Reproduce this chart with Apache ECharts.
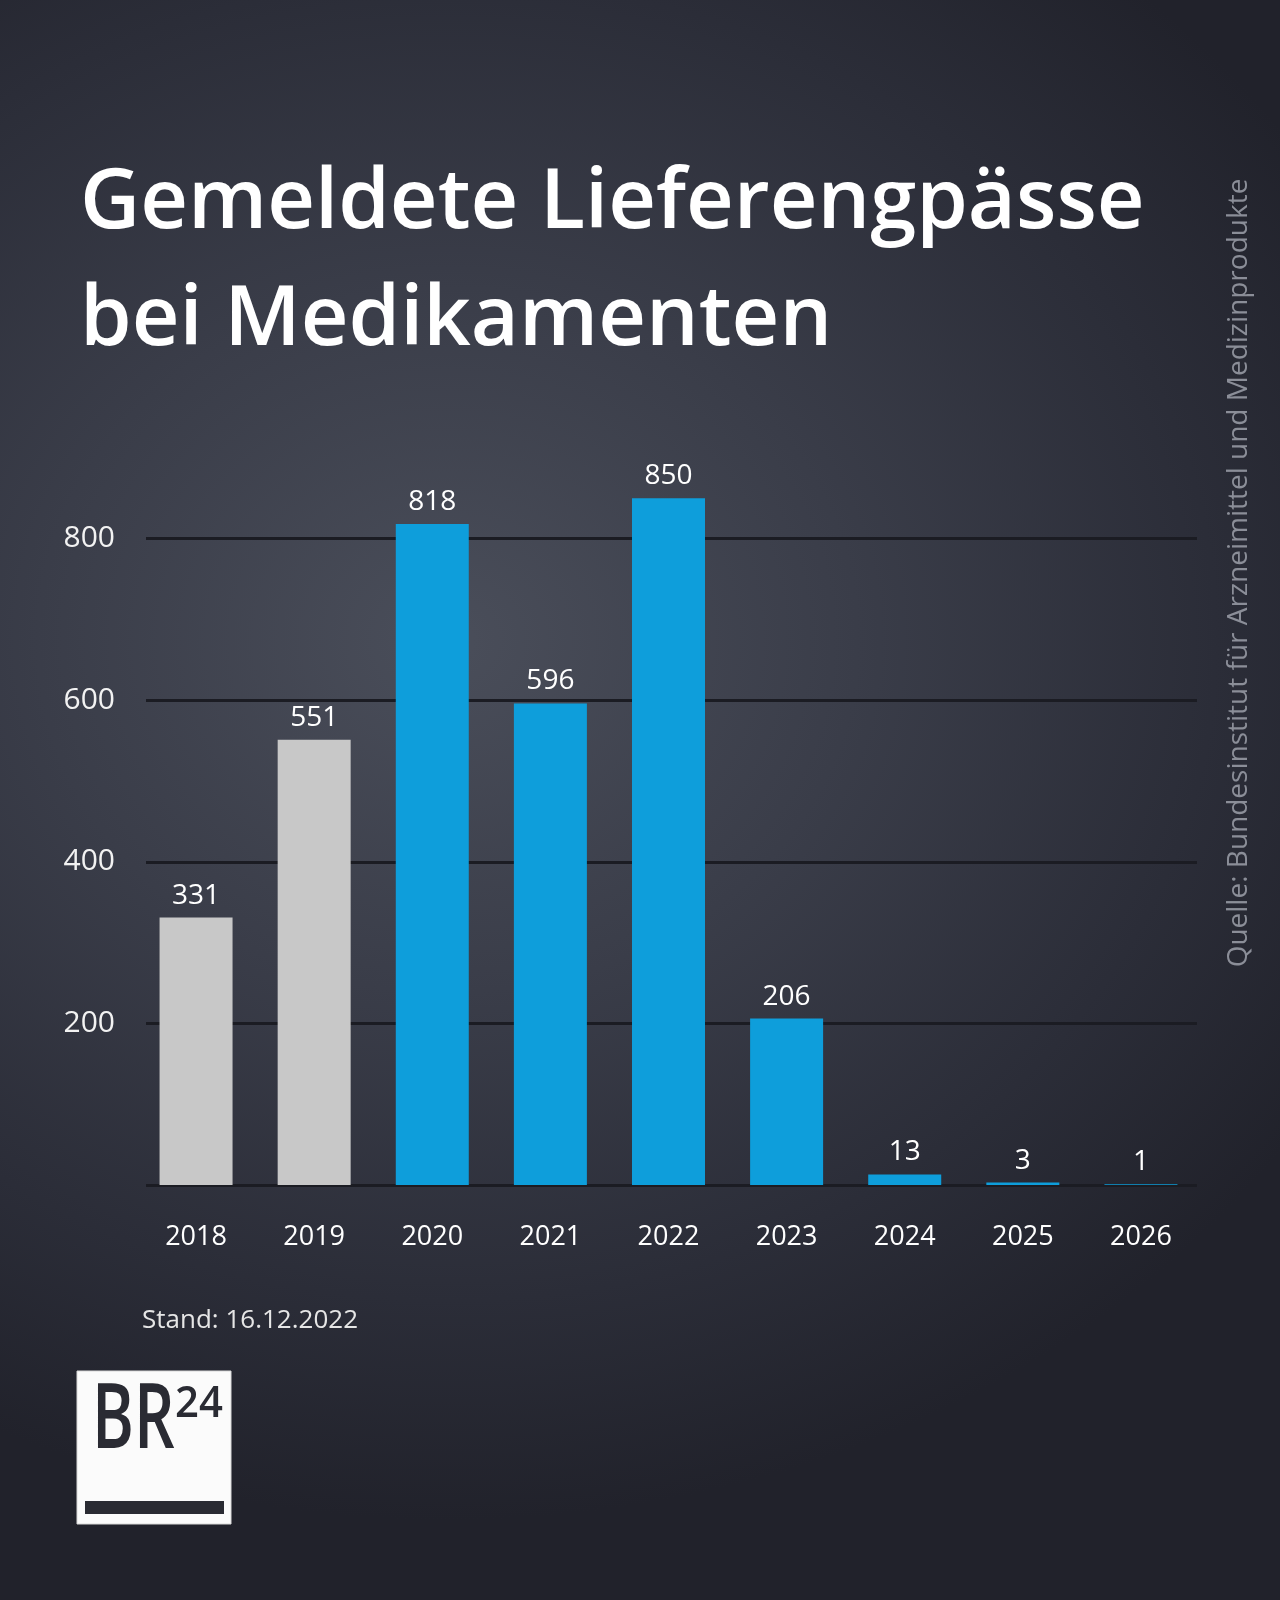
<!DOCTYPE html>
<html>
<head>
<meta charset="utf-8">
<script src="https://cdn.jsdelivr.net/npm/echarts@6/dist/echarts.min.js"></script>
<style>
html,body{margin:0;padding:0;}
body{width:1280px;height:1600px;background:radial-gradient(ellipse 80% 55% at 35% 40%, #4a4e5a 0%, #3a3d49 40%, #2b2d38 75%, #21222b 100%);}
#chart{width:1280px;height:1600px;}
</style>
</head>
<body>
<div id="chart"></div>
<script>
const years = ['2018','2019','2020','2021','2022','2023','2024','2025','2026'];
const values = [331, 551, 818, 596, 850, 206, 13, 3, 1];
const barColors = ['#c8c8c8','#c8c8c8','#0e9edb','#0e9edb','#0e9edb','#0e9edb','#0e9edb','#0e9edb','#0e9edb'];
const yTicks = [0, 200, 400, 600, 800, 1000];
const titleLines = ['Gemeldete Lieferengpässe', 'bei Medikamenten'];
const standText = 'Stand: 16.12.2022';
const sourceText = 'Quelle: Bundesinstitut für Arzneimittel und Medizinprodukte';

const FONT = '"Open Sans", "Noto Sans", sans-serif';
const chart = echarts.init(document.getElementById('chart'), null, {renderer: 'canvas'});
const yMin = yTicks[0], yMax = yTicks[yTicks.length - 1];
const option = {
  backgroundColor: 'transparent',
  animation: false,
  grid: [
    {left: 146, top: 377, width: 1051, height: 808, containLabel: false},
    {left: 137, top: 377, width: 1063, height: 808, containLabel: false}
  ],
  xAxis: [
    {type: 'value', gridIndex: 0, show: false, min: 0, max: 1},
    {
      type: 'category',
      gridIndex: 1,
      data: years,
      axisLine: {show: false},
      axisTick: {show: false},
      axisLabel: {color: '#ffffff', fontFamily: FONT, fontSize: 27, margin: 39}
    }
  ],
  yAxis: [
    {
      type: 'value',
      gridIndex: 0,
      min: yMin,
      max: yMax,
      interval: 200,
      axisLine: {show: false},
      axisTick: {show: false},
      axisLabel: {color: '#f2f2f2', fontFamily: FONT, fontSize: 30, margin: 31, showMinLabel: false, showMaxLabel: false},
      splitLine: {show: true, showMaxLine: false, lineStyle: {color: '#1b1c23', width: 3}}
    },
    {
      type: 'value',
      gridIndex: 1,
      min: yMin,
      max: yMax,
      interval: 200,
      show: false,
      splitLine: {show: false}
    }
  ],
  series: [{
    type: 'bar',
    xAxisIndex: 1,
    yAxisIndex: 1,
    barWidth: 73,
    data: values.map((v, i) => ({value: v, itemStyle: {color: barColors[i]}})),
    label: {show: true, position: 'top', distance: 8, color: '#ffffff', fontFamily: FONT, fontSize: 28}
  }],
  graphic: [
    {type: 'text', left: 80, top: 163, style: {text: titleLines[0], fill: '#ffffff', font: '600 83px ' + FONT}},
    {type: 'text', left: 80, top: 280, style: {text: titleLines[1], fill: '#ffffff', font: '600 83px ' + FONT}},
    {type: 'text', x: 142, y: 1321, style: {text: standText, fill: '#e6e6e6', font: '400 26px ' + FONT, verticalAlign: 'middle', align: 'left'}},
    {type: 'text', x: 1239, y: 573, rotation: Math.PI / 2, style: {text: sourceText, fill: '#8b8e98', font: '400 28px ' + FONT, verticalAlign: 'middle', align: 'center'}},
    {type: 'rect', shape: {x: 77, y: 1371, width: 154, height: 153}, style: {fill: '#fbfbfb', stroke: '#d8d8d8', lineWidth: 1}},
    {type: 'rect', shape: {x: 85, y: 1501, width: 139, height: 13}, style: {fill: '#2a2b33'}},
    {type: 'text', x: 92, y: 1422, scaleX: 0.7, style: {text: 'BR', fill: '#2a2b33', font: '600 91px ' + FONT, verticalAlign: 'middle', align: 'left'}},
    {type: 'text', x: 175, y: 1404, scaleX: 0.95, style: {text: '24', fill: '#2a2b33', font: '600 44px ' + FONT, verticalAlign: 'middle', align: 'left'}}
  ]
};
chart.setOption(option);
</script>
</body>
</html>
